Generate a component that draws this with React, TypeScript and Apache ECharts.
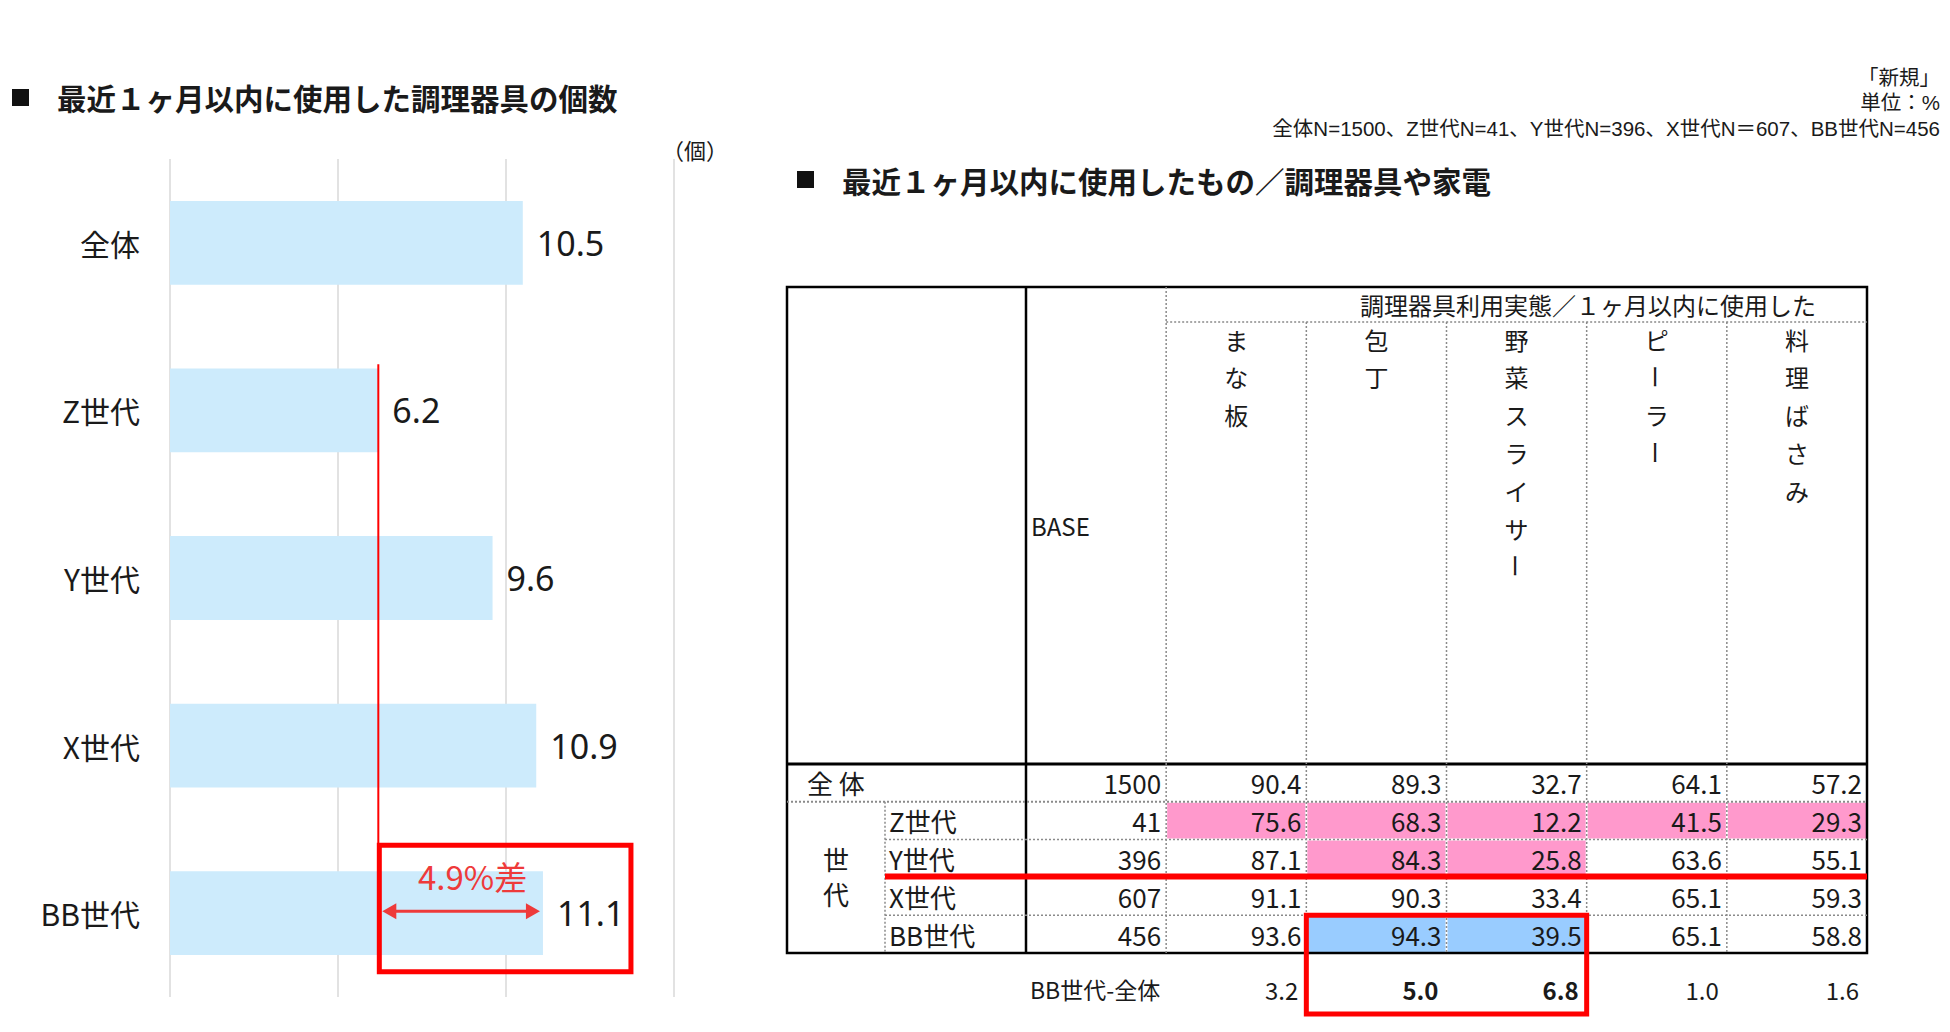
import React, { useEffect, useRef } from "react";
import * as echarts from "echarts";

// ---------- data ----------
const barCategories = ["全体", "Z世代", "Y世代", "X世代", "BB世代"];
const barValues = [10.5, 6.2, 9.6, 10.9, 11.1];
const barAxisMin = 0;
const barAxisMax = 15;
const barAxisInterval = 5;
const barUnit = "（個）";
const gapLabel = "4.9%差";

const leftTitle = "最近１ヶ月以内に使用した調理器具の個数";
const rightTitle = "最近１ヶ月以内に使用したもの／調理器具や家電";
const notes = ["「新規」", "単位：%", "全体N=1500、Z世代N=41、Y世代N=396、X世代N＝607、BB世代N=456"];

const tableHeader = "調理器具利用実態／１ヶ月以内に使用した";
const tableRowLabels = ["全体", "Z世代", "Y世代", "X世代", "BB世代"];
const tableAllLabel = "全 体";
const tableGroupLabel = ["世", "代"];
const tableColumns = ["BASE", "まな板", "包丁", "野菜スライサー", "ピーラー", "料理ばさみ"];
const baseN = [1500, 41, 396, 607, 456];
const manaita = [90.4, 75.6, 87.1, 91.1, 93.6];
const houchou = [89.3, 68.3, 84.3, 90.3, 94.3];
const slicer = [32.7, 12.2, 25.8, 33.4, 39.5];
const peeler = [64.1, 41.5, 63.6, 65.1, 65.1];
const hasami = [57.2, 29.3, 55.1, 59.3, 58.8];
const diffLabel = "BB世代-全体";
const diffValues = [3.2, 5.0, 6.8, 1.0, 1.6];
// [row, column] of highlighted cells
const lowCells = [[1, 1], [1, 2], [1, 3], [1, 4], [1, 5], [2, 2], [2, 3]];
const highCells = [[4, 2], [4, 3]];

// ---------- styles ----------
const JP = "'Noto Sans CJK JP', sans-serif";
const NUM = "'Noto Sans', 'Noto Sans CJK JP', sans-serif";
const NOTE = "'Liberation Sans', 'Noto Sans CJK JP', sans-serif";
const PINK = "#FF99CC";
const BLUE = "#99CCFF";
const RED = "#FF0000";
const RED_TEXT = "#EE3A3A";

const T = {
  left: 787,
  right: 1867,
  top: 287,
  head1: 322,
  headBottom: 764,
  bottom: 953,
  subCol: 885,
  labelCol: 1026,
};

export default function App() {
  const ref = useRef<HTMLDivElement>(null);

  useEffect(() => {
    const chart = echarts.init(ref.current!, null, { renderer: "svg" });
    const columnsData = [baseN, manaita, houchou, slicer, peeler, hasami];
    const kindOf = (r: number, c: number) => {
      if (lowCells.some((p) => p[0] === r && p[1] === c)) return 1;
      if (highCells.some((p) => p[0] === r && p[1] === c)) return 2;
      return 0;
    };
    const tableData: number[][] = [];
    for (let r = 0; r < tableRowLabels.length; r++) {
      for (let c = 0; c < tableColumns.length; c++) {
        tableData.push([c, r, columnsData[c][r], kindOf(r, c)]);
      }
    }
    const boldCols = highCells.map((p) => p[1]);
    const diffData = diffValues.map((v, i) => [i + 1, 0, v, boldCols.includes(i + 1) ? 1 : 0]);

    chart.setOption({
      animation: false,
      backgroundColor: "#ffffff",
      grid: [
        { left: 170, width: 504, top: 159, height: 838 },
        { left: T.labelCol, width: T.right - T.labelCol, top: T.headBottom, height: T.bottom - T.headBottom },
        { left: T.labelCol, width: T.right - T.labelCol, top: 970, height: 38 },
      ],
      xAxis: [
        {
          gridIndex: 0,
          type: "value",
          min: barAxisMin,
          max: barAxisMax,
          interval: barAxisInterval,
          axisLabel: { show: false },
          axisLine: { show: false },
          axisTick: { show: false },
          splitLine: { show: true, lineStyle: { color: "#D9D9D9", width: 1.5 } },
        },
        { gridIndex: 1, type: "category", data: tableColumns, show: false },
        { gridIndex: 2, type: "category", data: tableColumns, show: false },
      ],
      yAxis: [
        {
          gridIndex: 0,
          type: "category",
          data: barCategories,
          inverse: true,
          axisLine: { show: false },
          axisTick: { show: false },
          axisLabel: { fontSize: 30, color: "#1a1a1a", fontFamily: JP, margin: 30 },
        },
        { gridIndex: 1, type: "category", data: tableRowLabels, inverse: true, show: false },
        { gridIndex: 2, type: "category", data: [diffLabel], show: false },
      ],
      series: [
        {
          type: "bar",
          xAxisIndex: 0,
          yAxisIndex: 0,
          data: barValues,
          barWidth: "50%",
          itemStyle: { color: "#CDEBFC" },
          label: {
            show: true,
            position: "right",
            distance: 14,
            fontSize: 34,
            fontFamily: NUM,
            color: "#1a1a1a",
            formatter: (p: any) => p.value.toFixed(1),
          },
        },
        {
          type: "custom",
          xAxisIndex: 1,
          yAxisIndex: 1,
          data: tableData,
          renderItem: (params: any, api: any) => {
            const c = api.value(0);
            const r = api.value(1);
            const v = api.value(2);
            const kind = api.value(3);
            const pt = api.coord([c, r]);
            const sz = api.size([1, 1]);
            const x0 = pt[0] - sz[0] / 2;
            const y0 = pt[1] - sz[1] / 2;
            const children: any[] = [];
            if (kind) {
              children.push({
                type: "rect",
                shape: { x: x0 + 1, y: y0 + 1, width: sz[0] - 2, height: sz[1] - 2 },
                style: { fill: kind === 1 ? PINK : BLUE },
              });
            }
            children.push({
              type: "text",
              x: x0 + sz[0] - 5,
              y: pt[1],
              style: {
                text: c === 0 ? String(v) : Number(v).toFixed(1),
                x: 0,
                y: 0,
                align: "right",
                textAlign: "right",
                verticalAlign: "middle",
                textVerticalAlign: "middle",
                fill: "#1a1a1a",
                fontSize: 26,
                fontFamily: JP,
              },
            });
            return { type: "group", children };
          },
        },
        {
          type: "custom",
          xAxisIndex: 2,
          yAxisIndex: 2,
          data: diffData,
          renderItem: (params: any, api: any) => {
            const c = api.value(0);
            const r = api.value(1);
            const v = api.value(2);
            const bold = api.value(3);
            const pt = api.coord([c, r]);
            const sz = api.size([1, 1]);
            return {
              type: "text",
              x: pt[0] + sz[0] / 2 - 8,
              y: pt[1],
              style: {
                text: Number(v).toFixed(1),
                x: 0,
                y: 0,
                align: "right",
                textAlign: "right",
                verticalAlign: "middle",
                textVerticalAlign: "middle",
                fill: "#1a1a1a",
                fontSize: 24,
                fontWeight: bold ? "bold" : "normal",
                fontFamily: JP,
              },
            };
          },
        },
      ],
    });

    // ---------- annotations / table frame ----------
    const txt = (x: number, y: number, text: string, o: any = {}, extra: any = {}) => ({
      type: "text",
      x,
      y,
      z: 100,
      ...extra,
      style: {
        text,
        x: 0,
        y: 0,
        fill: "#1a1a1a",
        fontFamily: JP,
        fontSize: 24,
        align: o.align || "left",
        textAlign: o.align || "left",
        verticalAlign: o.va || "middle",
        textVerticalAlign: o.va || "middle",
        ...o,
      },
    });
    const line = (x1: number, y1: number, x2: number, y2: number, style: any) => ({
      type: "line",
      z: 100,
      shape: { x1, y1, x2, y2 },
      style: { stroke: "#000", lineWidth: 1, ...style },
    });
    const dash = { stroke: "#8a8a8a", lineWidth: 1.5, lineDash: [2, 2] };
    const solid = { stroke: "#000", lineWidth: 2.5 };

    const els: any[] = [];

    // titles
    els.push({ type: "rect", z: 100, shape: { x: 12, y: 89, width: 17, height: 17 }, style: { fill: "#111" } });
    els.push(txt(57, 97, leftTitle, { fontSize: 29.5, fontWeight: "bold" }));
    els.push({ type: "rect", z: 100, shape: { x: 797, y: 171, width: 17, height: 17 }, style: { fill: "#111" } });
    els.push(txt(842, 180, rightTitle, { fontSize: 29.5, fontWeight: "bold" }));
    notes.forEach((n, i) =>
      els.push(txt(1940, 77 + i * 25.5, n, { fontSize: 20.5, align: "right", fontFamily: NOTE, lineHeight: 22 }))
    );
    els.push(txt(695, 149, barUnit, { fontSize: 22, align: "center" }));

    // bar-chart annotations
    const pZ = chart.convertToPixel({ gridIndex: 0 }, [barValues[1], 1]) as number[];
    const pBB = chart.convertToPixel({ gridIndex: 0 }, [barValues[4], 4]) as number[];
    const p0 = chart.convertToPixel({ gridIndex: 0 }, [0, 0]) as number[];
    const band = pZ[1] - p0[1];
    const boxTop = pBB[1] - band * 0.405;
    const boxBottom = pBB[1] + band * 0.35;
    els.push(line(pZ[0], pZ[1] - band * 0.275, pZ[0], boxBottom, { stroke: RED, lineWidth: 2 }));
    els.push({
      type: "rect",
      z: 100,
      shape: { x: pZ[0] + 1, y: boxTop, width: pBB[0] + 88 - pZ[0] - 1, height: boxBottom - boxTop },
      style: { fill: "none", stroke: RED, lineWidth: 5 },
    });
    const ay = pBB[1] - 2;
    const ax1 = pZ[0] + 4;
    const ax2 = pBB[0] - 3;
    els.push(line(ax1 + 8, ay, ax2 - 8, ay, { stroke: RED_TEXT, lineWidth: 3 }));
    els.push({ type: "polygon", z: 100, shape: { points: [[ax1, ay], [ax1 + 14, ay - 8], [ax1 + 14, ay + 8]] }, style: { fill: RED_TEXT } });
    els.push({ type: "polygon", z: 100, shape: { points: [[ax2, ay], [ax2 - 14, ay - 8], [ax2 - 14, ay + 8]] }, style: { fill: RED_TEXT } });
    els.push(txt((pZ[0] + pBB[0]) / 2 + 12, pBB[1] - 37, gapLabel, { fontSize: 33, align: "center", fill: RED_TEXT }));

    // table geometry from its grid
    const cell = (c: number, r: number) => chart.convertToPixel({ gridIndex: 1 }, [c, r]) as number[];
    const c0 = cell(0, 0);
    const c1 = cell(1, 1);
    const colW = c1[0] - c0[0];
    const rowH = c1[1] - c0[1];
    const colLeft = (c: number) => cell(c, 0)[0] - colW / 2;
    const rowTop = (r: number) => cell(0, r)[1] - rowH / 2;

    // frame
    els.push({ type: "rect", z: 100, shape: { x: T.left, y: T.top, width: T.right - T.left, height: T.bottom - T.top }, style: { fill: "none", stroke: "#000", lineWidth: 2.5 } });
    els.push(line(T.labelCol, T.top, T.labelCol, T.bottom, solid));
    els.push(line(T.left, T.headBottom, T.right, T.headBottom, { stroke: "#000", lineWidth: 3 }));
    els.push(line(colLeft(1), T.head1, T.right, T.head1, dash));
    els.push(line(colLeft(1), T.top, colLeft(1), T.bottom, dash));
    for (let c = 2; c < tableColumns.length; c++) els.push(line(colLeft(c), T.head1, colLeft(c), T.bottom, dash));
    els.push(line(T.left, rowTop(1), T.right, rowTop(1), { ...dash, lineWidth: 2 }));
    els.push(line(T.subCol, rowTop(1), T.subCol, T.bottom, dash));
    for (let r = 2; r < tableRowLabels.length; r++) els.push(line(T.subCol, rowTop(r), T.right, rowTop(r), dash));

    // header texts
    els.push(txt(T.right - 51, (T.top + T.head1) / 2, tableHeader, { fontSize: 24, align: "right" }));
    els.push(txt(colLeft(0) + 5, 525, tableColumns[0], { fontSize: 24 }));
    for (let c = 1; c < tableColumns.length; c++) {
      const cx = cell(c, 0)[0];
      Array.from(tableColumns[c]).forEach((ch, i) => {
        const isBar = ch === "ー";
        els.push(txt(cx, 339 + i * 37.8, ch, { fontSize: 24, align: "center" }, isBar ? { rotation: -Math.PI / 2 } : {}));
      });
    }

    // row labels
    els.push(txt(807, cell(0, 0)[1], tableAllLabel, { fontSize: 26 }));
    els.push(txt(836, 858, tableGroupLabel[0], { fontSize: 26, align: "center" }));
    els.push(txt(836, 893, tableGroupLabel[1], { fontSize: 26, align: "center" }));
    for (let r = 1; r < tableRowLabels.length; r++) {
      els.push(txt(T.subCol + 4, cell(0, r)[1], tableRowLabels[r], { fontSize: 26 }));
    }

    // red marks on the table
    els.push(line(T.subCol, rowTop(3) - 1, T.right, rowTop(3) - 1, { stroke: RED, lineWidth: 6 }));
    const d0 = chart.convertToPixel({ gridIndex: 2 }, [0, 0]) as number[];
    els.push(txt(d0[0] - colW / 2 + 4, d0[1], diffLabel, { fontSize: 23 }));
    const bx1 = colLeft(highCells[0][1]);
    const bx2 = colLeft(highCells[highCells.length - 1][1]) + colW;
    els.push({
      type: "rect",
      z: 101,
      shape: { x: bx1, y: rowTop(4), width: bx2 - bx1, height: 1014 - rowTop(4) },
      style: { fill: "none", stroke: RED, lineWidth: 5 },
    });

    chart.setOption({ graphic: { elements: els } });

    return () => chart.dispose();
  }, []);

  return (
    <div
      ref={ref}
      style={{ position: "fixed", left: 0, top: 0, width: 1950, height: 1032, background: "#fff" }}
    />
  );
}
